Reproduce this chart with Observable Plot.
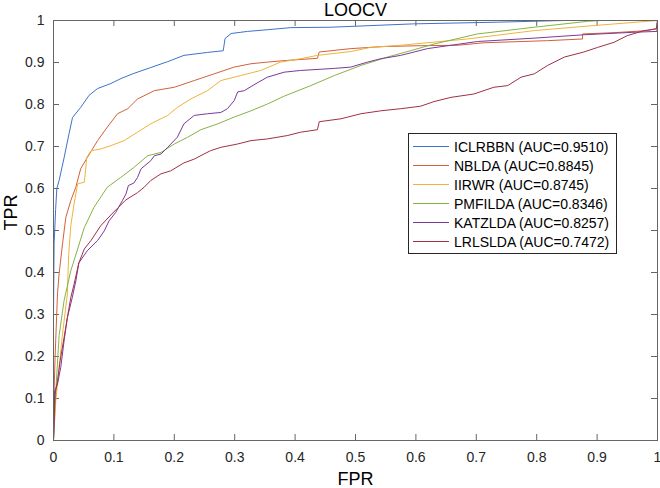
<!DOCTYPE html>
<html><head><meta charset="utf-8">
<script src="https://cdn.jsdelivr.net/npm/d3@7"></script>
<script src="https://cdn.jsdelivr.net/npm/@observablehq/plot@0.6"></script>
<style>
body{margin:0;background:#fff;}
#wrap{position:relative;width:660px;height:488px;font-family:"Liberation Sans",Arial,sans-serif;}
#legend{position:absolute;left:408px;top:133px;width:209px;height:121px;box-sizing:border-box;border:1px solid #262626;background:#fff;padding-top:3px;}
.row{display:flex;align-items:center;height:19px;font-size:14px;color:#000;white-space:nowrap;}
.row .sw{margin-left:4px;margin-right:5px;width:36px;height:1px;}
</style></head>
<body><div id="wrap"><div id="legend"></div></div>
<script>
const methods = ["ICLRBBN","NBLDA","IIRWR","PMFILDA","KATZLDA","LRLSLDA"];
const aucs = ["0.9510","0.8845","0.8745","0.8346","0.8257","0.7472"];
const colors = ["#3E72C8","#D2603A","#EDB43C","#84B445","#7C3A98","#A03046"];
const xTicks = [0,0.1,0.2,0.3,0.4,0.5,0.6,0.7,0.8,0.9,1];
const yTicks = [0,0.1,0.2,0.3,0.4,0.5,0.6,0.7,0.8,0.9,1];

const iclrbbnFPR = [0,0,0.001,0.002,0.0035,0.0055,0.0093,0.0175,0.0258,0.0315,0.045,0.059,0.073,0.095,0.112,0.133,0.161,0.189,0.216,0.255,0.281,0.284,0.294,0.321,0.354,0.393,0.459,0.596,0.735,0.845,1];
const iclrbbnTPR = [0,0.3,0.47,0.5,0.55,0.6,0.619,0.673,0.731,0.769,0.793,0.822,0.838,0.850,0.862,0.874,0.888,0.902,0.917,0.924,0.928,0.957,0.969,0.974,0.978,0.983,0.984,0.992,0.996,1,1];

const nbldaFPR = [0,0.001,0.0026,0.0066,0.0093,0.0149,0.0204,0.0286,0.0369,0.045,0.056,0.062,0.073,0.089,0.106,0.123,0.139,0.167,0.200,0.233,0.266,0.299,0.327,0.354,0.387,0.437,0.440,0.492,0.547,0.608,0.669,0.713,0.818,0.876,0.876,0.928,0.983,0.999,1];
const nbldaTPR = [0,0.118,0.197,0.349,0.397,0.468,0.531,0.571,0.603,0.647,0.674,0.688,0.714,0.746,0.778,0.790,0.813,0.833,0.841,0.857,0.873,0.889,0.897,0.901,0.905,0.910,0.925,0.933,0.938,0.940,0.941,0.947,0.952,0.956,0.968,0.971,0.976,0.981,1];

const iirwrFPR = [0,0.0038,0.0093,0.0149,0.023,0.025,0.0286,0.034,0.040,0.051,0.053,0.055,0.062,0.078,0.095,0.117,0.139,0.161,0.189,0.205,0.227,0.255,0.277,0.310,0.343,0.376,0.409,0.437,0.492,0.525,0.575,0.685,0.796,0.895,1];
const iirwrTPR = [0,0.094,0.174,0.254,0.349,0.44,0.511,0.563,0.611,0.615,0.642,0.674,0.690,0.694,0.702,0.714,0.734,0.754,0.774,0.793,0.813,0.833,0.857,0.869,0.881,0.901,0.909,0.917,0.926,0.936,0.941,0.956,0.976,0.988,1];

const pmfildaFPR = [0,0.001,0.0038,0.0093,0.0175,0.0286,0.040,0.051,0.067,0.089,0.111,0.133,0.156,0.178,0.200,0.222,0.244,0.272,0.299,0.327,0.354,0.382,0.426,0.465,0.509,0.553,0.591,0.630,0.702,0.796,0.884,0.906,1];
const pmfildaTPR = [0,0.03,0.118,0.25,0.333,0.404,0.456,0.507,0.555,0.603,0.626,0.650,0.678,0.686,0.706,0.722,0.740,0.754,0.770,0.785,0.801,0.820,0.845,0.869,0.893,0.913,0.928,0.944,0.968,0.984,0.998,1,1];

const katzldaFPR = [0,0.001,0.002,0.0066,0.012,0.0175,0.023,0.031,0.037,0.042,0.056,0.073,0.084,0.092,0.103,0.114,0.120,0.124,0.133,0.139,0.145,0.161,0.167,0.178,0.189,0.205,0.216,0.233,0.255,0.277,0.288,0.299,0.305,0.316,0.332,0.354,0.382,0.409,0.465,0.492,0.520,0.542,0.575,0.619,0.702,0.796,0.878,0.961,0.999,1];
const katzldaTPR = [0,0.046,0.118,0.134,0.174,0.237,0.293,0.340,0.380,0.423,0.452,0.476,0.499,0.523,0.543,0.571,0.587,0.607,0.613,0.626,0.647,0.666,0.678,0.682,0.698,0.722,0.754,0.774,0.778,0.781,0.790,0.809,0.830,0.833,0.847,0.865,0.877,0.881,0.886,0.889,0.901,0.909,0.917,0.933,0.950,0.958,0.966,0.972,0.974,1];

const lrlsldaFPR = [0,0.001,0.0026,0.0066,0.011,0.0175,0.023,0.0286,0.034,0.042,0.051,0.062,0.078,0.095,0.106,0.120,0.139,0.150,0.161,0.178,0.194,0.216,0.233,0.249,0.260,0.277,0.305,0.327,0.354,0.387,0.409,0.437,0.440,0.476,0.509,0.542,0.575,0.608,0.630,0.658,0.696,0.729,0.752,0.774,0.796,0.818,0.846,0.878,0.901,0.928,0.950,0.978,0.998,1];
const lrlsldaTPR = [0,0.054,0.110,0.142,0.190,0.245,0.293,0.340,0.372,0.423,0.456,0.476,0.511,0.537,0.553,0.573,0.590,0.603,0.619,0.635,0.642,0.661,0.670,0.682,0.690,0.698,0.706,0.714,0.718,0.726,0.734,0.740,0.759,0.766,0.778,0.785,0.790,0.796,0.807,0.817,0.825,0.841,0.845,0.865,0.873,0.893,0.913,0.925,0.936,0.948,0.964,0.976,0.980,1];

const fprs = [iclrbbnFPR,nbldaFPR,iirwrFPR,pmfildaFPR,katzldaFPR,lrlsldaFPR];
const tprs = [iclrbbnTPR,nbldaTPR,iirwrTPR,pmfildaTPR,katzldaTPR,lrlsldaTPR];
const rows = [];
methods.forEach((m,i)=>fprs[i].forEach((x,j)=>rows.push({method:m, fpr:x, tpr:tprs[i][j]})));

const W=660,H=488,mL=53,mR=3,mT=20,mB=48;
const plotW=W-mL-mR, plotH=H-mT-mB, tk=6;
const fmt = d => String(+d.toFixed(1));
const axisGray = "#666";

const chart = Plot.plot({
  width:W, height:H, marginLeft:mL, marginRight:mR, marginTop:mT, marginBottom:mB,
  style:{fontFamily:"'Liberation Sans', Arial, sans-serif", fontSize:"14px", color:"#262626", background:"white", overflow:"visible"},
  x:{domain:[0,1]},
  y:{domain:[0,1]},
  color:{domain:methods, range:colors},
  marks:[
    Plot.axisX({ticks:xTicks, tickFormat:fmt, tickSize:0, tickPadding:12, label:null, fontSize:14}),
    Plot.axisY({ticks:yTicks, tickFormat:fmt, tickSize:0, tickPadding:9, label:null, fontSize:14}),
    Plot.tickX(xTicks, {x:d=>d, insetTop:plotH-tk, stroke:axisGray}),
    Plot.tickX(xTicks, {x:d=>d, insetBottom:plotH-tk, stroke:axisGray}),
    Plot.tickY(yTicks, {y:d=>d, insetRight:plotW-tk, stroke:axisGray}),
    Plot.tickY(yTicks, {y:d=>d, insetLeft:plotW-tk, stroke:axisGray}),
    Plot.line(rows, {x:"fpr", y:"tpr", z:"method", stroke:"method", strokeWidth:1}),
    Plot.frame({stroke:axisGray}),
    Plot.text(["LOOCV"], {text:d=>d, frameAnchor:"top", dy:-5, lineAnchor:"bottom", fontSize:18, fill:"#000"}),
    Plot.text(["FPR"], {text:d=>d, frameAnchor:"bottom", dy:44, lineAnchor:"bottom", fontSize:18, fill:"#000"}),
    Plot.text(["TPR"], {text:d=>d, frameAnchor:"left", dx:-37, rotate:-90, lineAnchor:"bottom", fontSize:18, fill:"#000"})
  ]
});
const wrap = document.getElementById("wrap");
wrap.insertBefore(chart, wrap.firstChild);

const legend = document.getElementById("legend");
methods.forEach((m,i)=>{
  const row = document.createElement("div");
  row.className = "row";
  row.innerHTML = `<div class="sw" style="background:${colors[i]}"></div><span>${m} (AUC=${aucs[i]})</span>`;
  legend.appendChild(row);
});
</script>
</body></html>
